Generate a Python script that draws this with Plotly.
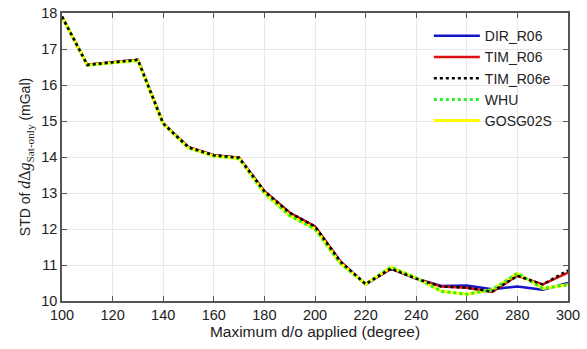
import plotly.graph_objects as go

degrees = [100, 110, 120, 130, 140, 150, 160, 170, 180, 190, 200,
           210, 220, 230, 240, 250, 260, 270, 280, 290, 300]
dir_r06 = [17.90, 16.56, 16.63, 16.70, 14.93, 14.27, 14.05, 13.98, 13.05, 12.45, 12.07,
           11.10, 10.46, 10.90, 10.62, 10.42, 10.43, 10.33, 10.40, 10.31, 10.50]
tim_r06 = [17.90, 16.56, 16.63, 16.70, 14.93, 14.27, 14.05, 13.98, 13.05, 12.45, 12.07,
           11.10, 10.47, 10.90, 10.62, 10.40, 10.37, 10.25, 10.70, 10.46, 10.79]
tim_r06e = [17.90, 16.56, 16.63, 16.70, 14.93, 14.27, 14.05, 13.98, 13.05, 12.45, 12.07,
            11.10, 10.47, 10.90, 10.62, 10.40, 10.37, 10.26, 10.70, 10.46, 10.85]
whu = [17.90, 16.55, 16.62, 16.68, 14.92, 14.25, 14.03, 13.96, 13.00, 12.37, 12.00,
       11.05, 10.47, 10.94, 10.64, 10.27, 10.19, 10.31, 10.77, 10.35, 10.45]
gosg02s = [17.90, 16.55, 16.62, 16.68, 14.92, 14.25, 14.03, 13.96, 13.00, 12.37, 12.00,
           11.05, 10.47, 10.94, 10.64, 10.27, 10.19, 10.31, 10.77, 10.35, 10.45]
x_ticks = [100, 120, 140, 160, 180, 200, 220, 240, 260, 280, 300]
y_ticks = [10, 11, 12, 13, 14, 15, 16, 17, 18]

fig = go.Figure()
series = [
    ("DIR_R06", dir_r06, "#1414C8", "solid", 2.5, 1),
    ("TIM_R06", tim_r06, "#E01010", "solid", 2.5, 2),
    ("GOSG02S", gosg02s, "#FFFF00", "solid", 3, 5),
    ("WHU", whu, "#2EF02E", "dot", 3, 4),
    ("TIM_R06e", tim_r06e, "#000000", "dot", 2.5, 3),
]
for name, vals, color, dash, w, rank in series:
    fig.add_trace(go.Scatter(
        x=degrees, y=vals, mode="lines", name=name, legendrank=rank,
        line=dict(color=color, dash=dash, width=w),
    ))

FONT = "Arial, Liberation Sans, sans-serif"
axis_common = dict(
    showline=True, linecolor="#555555", linewidth=1.5, mirror="allticks",
    ticks="inside", ticklen=5, tickcolor="#555555", tickwidth=1.2,
    showgrid=True, gridcolor="#E8E8E8", gridwidth=1, zeroline=False,
    automargin=False,
    tickfont=dict(family=FONT, size=14.5, color="#222222"),
)
fig.update_xaxes(
    range=[100, 300], tickvals=x_ticks,
    title=dict(text="Maximum d/o applied (degree)", standoff=3,
               font=dict(family=FONT, size=15.5, color="#222222")),
    **axis_common,
)
fig.update_yaxes(
    range=[10, 18], tickvals=y_ticks,
    title=dict(
        text="STD of <span style='font-family:Liberation Serif, Times New Roman, serif;font-size:16px'><i>d</i>Δ<i>g</i><sub>Sat-only</sub></span> (mGal)",
        standoff=7,
        font=dict(family=FONT, size=14, color="#222222")),
    **axis_common,
)
fig.update_layout(
    width=587, height=349,
    margin=dict(l=62, r=19, t=13, b=48),
    paper_bgcolor="white", plot_bgcolor="white",
    showlegend=True,
    legend=dict(
        x=0.725, y=0.975, xanchor="left", yanchor="top",
        bgcolor="rgba(255,255,255,0)", borderwidth=0,
        font=dict(family=FONT, size=14, color="#222222"),
        itemwidth=46, tracegroupgap=0,
    ),
)
fig.write_html(
    "out.html",
    config={"displayModeBar": False},
    post_script="document.body.style.margin='0px';document.body.style.overflow='hidden';",
)
